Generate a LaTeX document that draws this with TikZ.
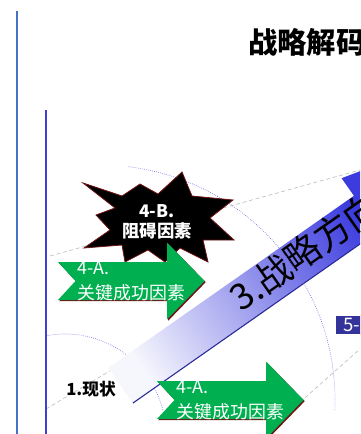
\documentclass[tikz,border=0pt]{standalone}
\usepackage{fontspec}
\setmainfont{Noto Sans CJK SC}
\usetikzlibrary{shadows}
\definecolor{framebl}{RGB}{68,114,196}
\definecolor{innerbl}{RGB}{64,64,208}
\definecolor{ringbl}{RGB}{110,110,230}
\definecolor{dashgray}{RGB}{192,192,192}
\definecolor{csfgreen}{RGB}{0,176,80}
\definecolor{shadowred}{RGB}{110,20,20}
\definecolor{navybox}{RGB}{51,51,153}
\definecolor{arrlo}{RGB}{246,246,253}
\definecolor{arrmid}{RGB}{200,200,245}
\definecolor{arrhi}{RGB}{60,60,222}
\definecolor{arredge}{RGB}{40,40,150}
\begin{document}
\begin{tikzpicture}[x=0.75pt,y=-0.75pt,
  guide/.style={draw=dashgray, dash pattern=on 3pt off 2pt, line width=0.5pt},
  ring/.style={draw=ringbl, densely dotted, line width=0.5pt},
  csf/.style={fill=csfgreen},
  csfshadow/.style={fill=shadowred},
  csftext/.style={text=white, anchor=west, align=left, inner sep=0pt,
    font=\fontsize{13.4}{18.8}\selectfont},
  boxfive/.style={anchor=west, fill=navybox, draw=white, line width=1.5pt,
    text=white, inner xsep=6pt, inner ysep=0pt, minimum height=15pt,
    text width=30pt, align=left, font=\fontsize{14}{15}\selectfont,
    drop shadow={shadow xshift=1pt, shadow yshift=-1pt, fill=gray!50}},
]
\useasboundingbox (0,0) rectangle (360,434);
\clip (0,0) rectangle (360,434);

% guides
\draw[guide] (50,256) -- (360,170);
\draw[guide] (46,409) -- (118,366);
\draw[guide] (290,411) -- (360,349);
\draw[ring] (65,435) ++(-101:101) arc[start angle=-101, end angle=-14, radius=101];

% 3. direction arrow
\begin{scope}[shift={(120.5,385.5)}, rotate=35]
\coordinate (tailtop) at (0,-21.5);
\coordinate (roottop) at (300,-21.5);
\coordinate (barbtop) at (300,-43);
\coordinate (tip) at (470,0);
\coordinate (barbbot) at (300,43);
\coordinate (rootbot) at (300,21.5);
\coordinate (tailbot) at (0,21.5);
\coordinate (dirpos) at (141,-4);
\end{scope}
\begin{scope}
\clip (tailtop) -- (roottop) -- (barbtop) -- (tip) -- (barbbot) -- (rootbot) -- (tailbot) -- cycle;
\shade[bottom color=arrlo, middle color=arrmid, top color=arrhi, shading angle=-55] (105,130) rectangle (360,405);
\end{scope}
\draw[arredge, line width=0.8pt] (tailbot) -- (rootbot);
\node[rotate=35, anchor=west, inner sep=0pt, font=\fontsize{27}{30}\selectfont] (dirtext) at (dirpos) {3.战略方向};

\draw[ring] (100,400) ++(-83:235) arc[start angle=-83, end angle=2.5, radius=235];

% 4-B. star
\filldraw[fill=black, draw=shadowred, line width=0.6pt]
  (83,183) -- (122,196) -- (140,184) -- (158,194) -- (182,172) -- (192,196)
  -- (233,200) -- (210,218) -- (234,240) -- (203,240) -- (208,262) -- (180,248)
  -- (165,262) -- (148,250) -- (125,262) -- (122,245) -- (84,248) -- (110,230)
  -- (96,215) -- (115,208) -- cycle;
\node[text=white, align=center, inner sep=0pt, font=\bfseries\fontsize{13}{14.5}\selectfont] (barrier) at (157,222) {4-B.\\阻碍因素};

% 4-A. arrows
\foreach \ax/\ay/\nm in {58/281/csfup, 157/400/csflow} {
  \fill[csfshadow, shift={(1.2,1.2)}] (\ax,\ay) ++(0,-19) -- ++(109,0) -- ++(0,-19.5) -- ++(37.5,38.5)
    -- ++(-37.5,38.5) -- ++(0,-19.5) -- ++(-109,0) -- ++(17.5,-19) -- cycle;
  \fill[csf] (\ax,\ay) ++(0,-19) -- ++(109,0) -- ++(0,-19.5) -- ++(37.5,38.5)
    -- ++(-37.5,38.5) -- ++(0,-19.5) -- ++(-109,0) -- ++(17.5,-19) -- cycle;
  \node[csftext] (\nm) at (\ax+19.5,\ay) {4-A.\\关键成功因素};
}

\node[font=\bfseries\fontsize{12.5}{15}\selectfont] (now) at (91,389) {1.现状};
\node[boxfive] (stepfive) at (334,324.5) {5-};

\node[anchor=west, inner sep=0pt, font=\bfseries\fontsize{22}{26}\selectfont] (title) at (248,42) {战略解码};

\draw[framebl, line width=1.5pt] (17,11) -- (17,434);
\draw[innerbl, line width=1pt] (46,110) -- (46,434);
\end{tikzpicture}
\end{document}
